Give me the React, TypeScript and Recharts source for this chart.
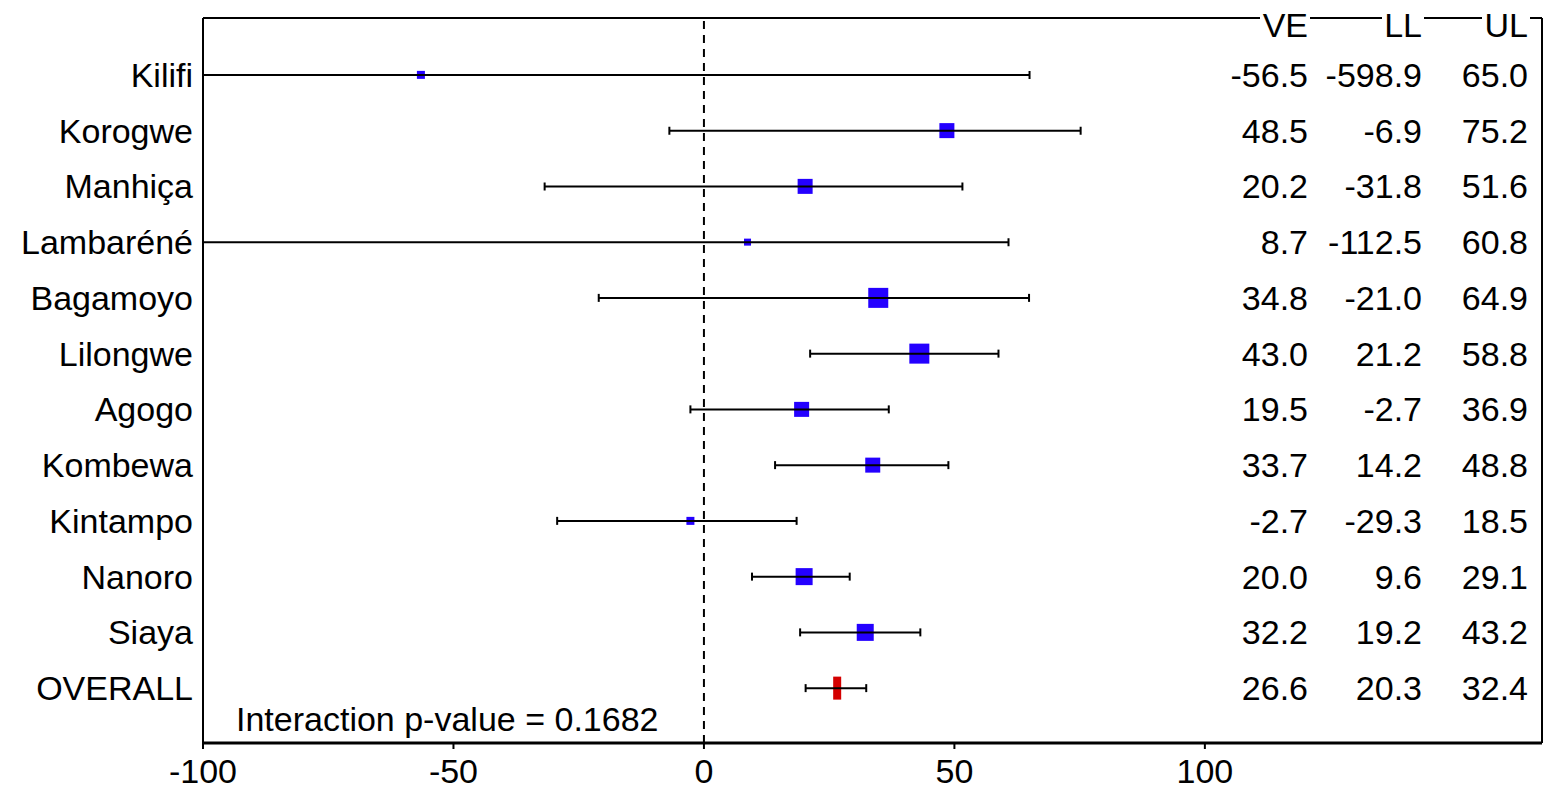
import React from "react";
import { ScatterChart, Scatter, XAxis, YAxis, ErrorBar, ReferenceLine } from "recharts";

// study sites, top to bottom
const sites = [
  "Kilifi", "Korogwe", "Manhiça", "Lambaréné", "Bagamoyo", "Lilongwe",
  "Agogo", "Kombewa", "Kintampo", "Nanoro", "Siaya", "OVERALL",
];
const ve = [-56.5, 48.5, 20.2, 8.7, 34.8, 43.0, 19.5, 33.7, -2.7, 20.0, 32.2, 26.6];
const lowerLimit = [-598.9, -6.9, -31.8, -112.5, -21.0, 21.2, -2.7, 14.2, -29.3, 9.6, 19.2, 20.3];
const upperLimit = [65.0, 75.2, 51.6, 60.8, 64.9, 58.8, 36.9, 48.8, 18.5, 29.1, 43.2, 32.4];
// relative study weight (drives box size)
const weights = [8, 15, 15, 7, 20, 20, 15, 15, 8, 17, 17, 0];

const xTicks = [-100, -50, 0, 50, 100];
const columnHeaders = ["VE", "LL", "UL"];
const pValueText = "Interaction p-value = 0.1682";

const rows = sites.map((site, i) => ({
  site,
  ve: ve[i],
  ll: lowerLimit[i],
  ul: upperLimit[i],
  err: [ve[i] - lowerLimit[i], upperLimit[i] - ve[i]],
  w: weights[i],
  isOverall: site === "OVERALL",
}));

const FONT = '"Liberation Sans", Arial, Helvetica, sans-serif';
const FS = 34;
const BLUE = "#2400ff";
const RED = "#d40000";
// right edge of each text column, measured back from the plot's right edge
const colRight = [234, 120, 14];
const headerWidths = [46, 38, 44];

const Marker = (props: any) => {
  const { cx, cy, payload } = props;
  if (cx == null || cy == null) return null;
  if (payload.isOverall) {
    return <rect x={cx - 4} y={cy - 11.5} width={8} height={23} fill={RED} />;
  }
  const s = payload.w;
  return <rect x={cx - s / 2} y={cy - s / 2} width={s} height={s} fill={BLUE} />;
};

const ValuesTick = (props: any) => {
  const { x, y, payload } = props;
  const row = rows.find((r) => r.site === payload.value);
  if (!row) return null;
  const vals = [row.ve, row.ll, row.ul];
  return (
    <g>
      {vals.map((v, i) => (
        <text
          key={i}
          x={x - colRight[i]}
          y={y}
          textAnchor="end"
          dominantBaseline="central"
          fontSize={FS}
          fontFamily={FONT}
          fill="#000"
        >
          {v.toFixed(1)}
        </text>
      ))}
    </g>
  );
};

// column headers sit on the top frame line, masking it behind them
const HeaderLabel = (props: any) => {
  const vb = props.viewBox;
  if (!vb) return null;
  const right = vb.x + vb.width;
  const lineY = vb.y + vb.height;
  return (
    <g>
      {columnHeaders.map((h, i) => {
        const xr = right - colRight[i];
        const w = headerWidths[i];
        return (
          <g key={h}>
            <rect x={xr - w - 2} y={lineY - 5} width={w + 4} height={10} fill="#fff" />
            <text
              x={xr}
              y={lineY + 7}
              textAnchor="end"
              dominantBaseline="central"
              fontSize={FS}
              fontFamily={FONT}
              fill="#000"
            >
              {h}
            </text>
          </g>
        );
      })}
    </g>
  );
};

const PValueLabel = (props: any) => {
  const vb = props.viewBox;
  if (!vb) return null;
  return (
    <text
      x={vb.x + 33}
      y={vb.y - 24}
      dominantBaseline="central"
      fontSize={FS}
      fontFamily={FONT}
      fill="#000"
    >
      {pValueText}
    </text>
  );
};

const App = () => {
  return (
    <div style={{ width: 1553, height: 792, background: "#fff" }}>
      <ScatterChart width={1553} height={792} margin={{ top: 9, right: 18, left: 0, bottom: 0 }}>
        <XAxis
          xAxisId="top"
          orientation="top"
          type="number"
          domain={[-100, 167.3]}
          allowDataOverflow
          height={1}
          tick={false}
          tickLine={false}
          axisLine={{ stroke: "#000", strokeWidth: 2 }}
          label={(p: any) => <HeaderLabel {...p} />}
        />
        <XAxis
          type="number"
          dataKey="ve"
          domain={[-100, 167.3]}
          allowDataOverflow
          ticks={xTicks}
          height={57}
          stroke="#000"
          tickSize={6}
          tickMargin={10}
          axisLine={{ stroke: "#000", strokeWidth: 3 }}
          tickLine={{ stroke: "#000", strokeWidth: 2 }}
          tick={{ fontSize: FS, fontFamily: FONT, fill: "#000" }}
          label={(p: any) => <PValueLabel {...p} />}
        />
        <YAxis
          type="category"
          dataKey="site"
          reversed
          allowDuplicatedCategory={false}
          padding={{ top: 29, bottom: 27 }}
          width={195}
          tickLine={false}
          tickSize={0}
          tickMargin={10}
          axisLine={{ stroke: "#000", strokeWidth: 2 }}
          tick={{ fontSize: FS, fontFamily: FONT, fill: "#000" }}
        />
        <YAxis
          yAxisId="right"
          orientation="right"
          type="category"
          dataKey="site"
          reversed
          allowDuplicatedCategory={false}
          padding={{ top: 29, bottom: 27 }}
          width={1}
          tickLine={false}
          tickSize={0}
          tickMargin={0}
          axisLine={{ stroke: "#000", strokeWidth: 2 }}
          tick={(p: any) => <ValuesTick {...p} />}
        />
        <ReferenceLine x={0} stroke="#000" strokeWidth={2} strokeDasharray="8 6" />
        <Scatter data={rows} shape={(p: any) => <Marker {...p} />} isAnimationActive={false}>
          <ErrorBar
            dataKey="err"
            direction="x"
            width={4}
            stroke="#000"
            strokeWidth={2}
            zIndex={0}
            isAnimationActive={false}
          />
        </Scatter>
        <Scatter
          yAxisId="right"
          data={rows}
          shape={() => <g />}
          isAnimationActive={false}
        />
      </ScatterChart>
    </div>
  );
};

export default App;
